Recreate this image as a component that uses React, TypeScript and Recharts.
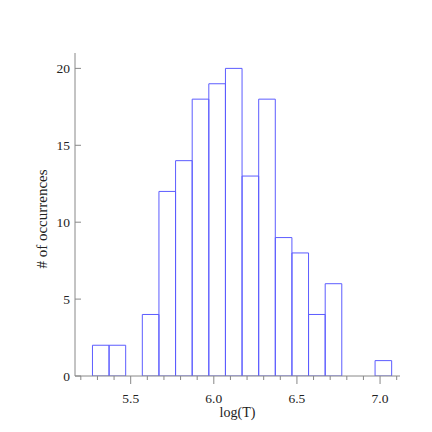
import React from 'react';
import { ComposedChart, Bar, XAxis, YAxis } from 'recharts';

// bin centres of log(T) and the counts in each bin
const binCenters = [5.32, 5.42, 5.52, 5.62, 5.72, 5.82, 5.92, 6.02, 6.12, 6.22, 6.32, 6.42, 6.52, 6.62, 6.72, 6.82, 6.92, 7.02];
const counts = [2, 2, 0, 4, 12, 14, 18, 19, 20, 13, 18, 9, 8, 4, 6, 0, 0, 1];

const xTicks = [5.2, 5.3, 5.4, 5.5, 5.6, 5.7, 5.8, 5.9, 6.0, 6.1, 6.2, 6.3, 6.4, 6.5, 6.6, 6.7, 6.8, 6.9, 7.0, 7.1];
const xMajorTicks = [5.5, 6.0, 6.5, 7.0];
const yTicks = [0, 5, 10, 15, 20];

const data = binCenters.map((x, i) => ({ x, count: counts[i] }));

const AXIS = '#888';
const TEXT = '#222';
const FONT = '"Liberation Serif", "Times New Roman", serif';

const BottomTick = (props: any) => {
  const { x, y, payload } = props;
  const major = xMajorTicks.some((m) => Math.abs(m - payload.value) < 1e-6);
  return (
    <g>
      <line x1={x} x2={x} y1={y} y2={y + (major ? 8 : 4)} stroke={AXIS} strokeWidth={1} />
      {major && (
        <text x={x} y={y + 26.5} textAnchor="middle" fill={TEXT} fontSize={13.5} fontFamily={FONT}>
          {payload.value.toFixed(1)}
        </text>
      )}
    </g>
  );
};

// ticks point into the plot, labels sit outside
const LeftTick = (props: any) => {
  const { x, y, payload } = props;
  return (
    <g>
      <line x1={x} x2={x + 6} y1={y} y2={y} stroke={AXIS} strokeWidth={1} />
      <text x={x - 5} y={y + 4.5} textAnchor="end" fill={TEXT} fontSize={13.5} fontFamily={FONT}>
        {payload.value}
      </text>
    </g>
  );
};

const YTitle = (props: any) => {
  const { viewBox } = props;
  const cx = viewBox.x + 12;
  const cy = viewBox.y + viewBox.height / 2 + 4.5;
  return (
    <text x={cx} y={cy} transform={`rotate(-90, ${cx}, ${cy})`} textAnchor="middle" fill={TEXT} fontSize={15} fontFamily={FONT}>
      # of occurrences
    </text>
  );
};

const XTitle = (props: any) => {
  const { viewBox } = props;
  return (
    <text x={viewBox.x + viewBox.width / 2} y={viewBox.y + 41} textAnchor="middle" fill={TEXT} fontSize={14} fontFamily={FONT}>
      log(T)
    </text>
  );
};

const App: React.FC = () => {
  return (
    <div style={{ position: 'absolute', left: 0, top: 0, width: 432, height: 432, background: '#fff' }}>
      <ComposedChart
        width={432}
        height={432}
        data={data}
        margin={{ top: 53, right: 32, bottom: 12, left: 35 }}
        style={{ fontFamily: FONT }}
      >
        <XAxis
          dataKey="x"
          type="number"
          domain={[5.165, 7.12]}
          ticks={xTicks}
          interval={0}
          height={44}
          tickSize={0}
          tickMargin={0}
          tickLine={false}
          axisLine={{ stroke: AXIS }}
          tick={<BottomTick />}
          allowDataOverflow
          label={<XTitle />}
        />
        <XAxis
          xAxisId="top"
          orientation="top"
          dataKey="x"
          type="number"
          domain={[5.165, 7.12]}
          ticks={xMajorTicks}
          interval={0}
          height={0}
          mirror
          tick={false}
          tickSize={6}
          tickLine={{ stroke: AXIS }}
          axisLine={{ stroke: AXIS }}
          allowDataOverflow
        />
        <YAxis
          type="number"
          domain={[0, 21]}
          ticks={yTicks}
          interval={0}
          width={40}
          tickSize={0}
          tickMargin={0}
          tickLine={false}
          axisLine={{ stroke: AXIS }}
          tick={<LeftTick />}
          allowDataOverflow
          label={<YTitle />}
        />
        <YAxis
          yAxisId="right"
          orientation="right"
          type="number"
          domain={[0, 21]}
          ticks={yTicks}
          interval={0}
          width={0}
          mirror
          tick={false}
          tickSize={7}
          tickLine={{ stroke: AXIS }}
          axisLine={{ stroke: '#aaa', strokeWidth: 2 }}
          allowDataOverflow
        />
        <Bar
          dataKey="count"
          barSize={16.6}
          fill="none"
          stroke="#5c5cff"
          strokeWidth={1}
          isAnimationActive={false}
        />
      </ComposedChart>
    </div>
  );
};

export default App;
